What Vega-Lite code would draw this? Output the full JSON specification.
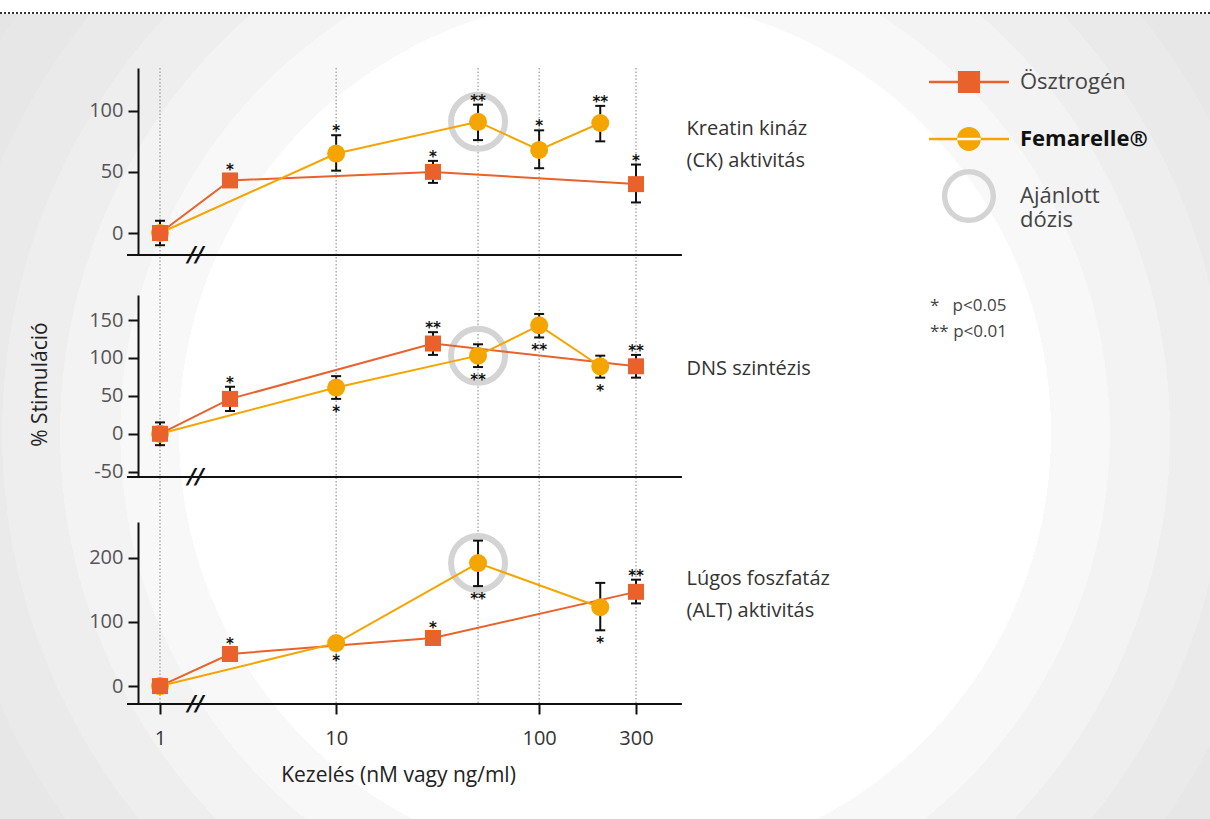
{
  "$schema": "https://vega.github.io/schema/vega-lite/v6.json",
  "width": 1210,
  "height": 805,
  "autosize": {"type": "none"},
  "padding": {"left": 0, "top": 14, "right": 0, "bottom": 0},
  "background": "white",
  "config": {
    "view": {"stroke": "#333", "strokeWidth": 4, "strokeDash": [2, 2]},
    "axis": {"grid": false, "zindex": 1},
    "font": "Open Sans"
  },
  "title": {
    "text": ["*\u00a0\u00a0 p<0.05", "** p<0.01"],
    "anchor": "start", "frame": "group", "orient": "top", "offset": 0,
    "dx": 930, "dy": 327, "font": "Open Sans", "fontSize": 17, "fontWeight": "normal",
    "color": "#444", "lineHeight": 26, "baseline": "top"
  },
  "data": {"values": [
    {"panel":"CK","series":"Ösztrogén","dose":1,"value":0,"lo":-10,"hi":10},
    {"panel":"CK","series":"Ösztrogén","dose":3,"value":43,"sig":"*","pos":"above"},
    {"panel":"CK","series":"Ösztrogén","dose":30,"value":50,"lo":41,"hi":59,"sig":"*","pos":"above"},
    {"panel":"CK","series":"Ösztrogén","dose":300,"value":40,"lo":25,"hi":56,"sig":"*","pos":"above"},
    {"panel":"CK","series":"Femarelle®","dose":1,"value":0},
    {"panel":"CK","series":"Femarelle®","dose":10,"value":65,"lo":51,"hi":80,"sig":"*","pos":"above"},
    {"panel":"CK","series":"Femarelle®","dose":50,"value":91,"lo":76,"hi":105,"sig":"**","pos":"above"},
    {"panel":"CK","series":"Femarelle®","dose":100,"value":68,"lo":53,"hi":84,"sig":"*","pos":"above"},
    {"panel":"CK","series":"Femarelle®","dose":200,"value":90,"lo":75,"hi":104,"sig":"**","pos":"above"},
    {"panel":"DNS","series":"Ösztrogén","dose":1,"value":0,"lo":-15,"hi":15},
    {"panel":"DNS","series":"Ösztrogén","dose":3,"value":46,"lo":30,"hi":62,"sig":"*","pos":"above"},
    {"panel":"DNS","series":"Ösztrogén","dose":30,"value":119,"lo":104,"hi":134,"sig":"**","pos":"above"},
    {"panel":"DNS","series":"Ösztrogén","dose":300,"value":89,"lo":74,"hi":104,"sig":"**","pos":"above"},
    {"panel":"DNS","series":"Femarelle®","dose":1,"value":0},
    {"panel":"DNS","series":"Femarelle®","dose":10,"value":61,"lo":46,"hi":76,"sig":"*","pos":"below"},
    {"panel":"DNS","series":"Femarelle®","dose":50,"value":103,"lo":88,"hi":118,"sig":"**","pos":"below"},
    {"panel":"DNS","series":"Femarelle®","dose":100,"value":143,"lo":127,"hi":158,"sig":"**","pos":"below"},
    {"panel":"DNS","series":"Femarelle®","dose":200,"value":89,"lo":74,"hi":103,"sig":"*","pos":"below"},
    {"panel":"ALT","series":"Ösztrogén","dose":1,"value":0},
    {"panel":"ALT","series":"Ösztrogén","dose":3,"value":50,"sig":"*","pos":"above"},
    {"panel":"ALT","series":"Ösztrogén","dose":30,"value":75,"sig":"*","pos":"above"},
    {"panel":"ALT","series":"Ösztrogén","dose":300,"value":147,"lo":129,"hi":166,"sig":"**","pos":"above"},
    {"panel":"ALT","series":"Femarelle®","dose":1,"value":0},
    {"panel":"ALT","series":"Femarelle®","dose":10,"value":67,"sig":"*","pos":"below"},
    {"panel":"ALT","series":"Femarelle®","dose":50,"value":192,"lo":156,"hi":227,"sig":"**","pos":"below"},
    {"panel":"ALT","series":"Femarelle®","dose":200,"value":123,"lo":87,"hi":161,"sig":"*","pos":"below"}
  ]},
  "resolve": {"scale": {"y": "independent"}, "axis": {"x": "independent"}},
  "layer": [
    {
      "mark": {"type": "point", "filled": true, "opacity": 1},
      "encoding": {
        "color": {"field": "series", "type": "nominal",
          "scale": {"domain": ["Ösztrogén", "Femarelle®", "Ajánlott dózis"], "range": ["#e9612b", "#f5a500", "#d4d4d4"]},
          "legend": {"orient": "none", "legendX": 942, "legendY": 41, "title": null, "padding": 0,
            "symbolSize": 2916, "symbolStrokeWidth": 0, "labelOffset": 24, "rowPadding": 18,
            "labelFont": "Open Sans", "labelFontSize": 22, "labelLimit": 300, "labelBaseline": "middle",
            "labelColor": {"expr": "datum.label == 'Femarelle®' ? '#111' : '#444'"},
            "labelFontWeight": {"expr": "datum.label == 'Femarelle®' ? 'bold' : 'normal'"},
            "labelExpr": "datum.label == 'Ajánlott dózis' ? ['Ajánlott', 'dózis'] : datum.label"}},
        "shape": {"field": "series", "type": "nominal",
          "scale": {"domain": ["Ösztrogén", "Femarelle®", "Ajánlott dózis"], "range": [
            "M-1.48,-0.046H1.48V0.046H-1.48ZM-0.41,-0.41H0.41V0.41H-0.41Z",
            "M-1.48,-0.046H1.48V0.046H-1.48ZM-0.44,0A0.44,0.44,0,1,0,0.44,0A0.44,0.44,0,1,0,-0.44,0Z",
            "M-1,0A1,1,0,1,0,1,0A1,1,0,1,0,-1,0ZM-0.8,0A0.8,0.8,0,1,1,0.8,0A0.8,0.8,0,1,1,-0.8,0Z"]},
          "legend": {"orient": "none", "legendX": 942, "legendY": 41, "title": null, "padding": 0,
            "symbolSize": 2916, "symbolStrokeWidth": 0, "labelOffset": 24, "rowPadding": 18,
            "labelFont": "Open Sans", "labelFontSize": 22, "labelLimit": 300, "labelBaseline": "middle",
            "labelColor": {"expr": "datum.label == 'Femarelle®' ? '#111' : '#444'"},
            "labelFontWeight": {"expr": "datum.label == 'Femarelle®' ? 'bold' : 'normal'"},
            "labelExpr": "datum.label == 'Ajánlott dózis' ? ['Ajánlott', 'dózis'] : datum.label"}}
      }
    },
    {
      "data": {"values": [{}]},
      "mark": {"type": "rect", "fill": {"gradient": "radial", "x1": 0.5083, "y1": 0.5136, "r1": 0, "x2": 0.5083, "y2": 0.5136, "r2": 0.6223,
        "stops": [
          {"offset": 0, "color": "#ffffff"}, {"offset": 0.579, "color": "#ffffff"},
          {"offset": 0.579, "color": "#f8f8f8"}, {"offset": 0.657, "color": "#f8f8f8"},
          {"offset": 0.657, "color": "#f3f3f3"}, {"offset": 0.737, "color": "#f3f3f3"},
          {"offset": 0.737, "color": "#eeeeee"}, {"offset": 0.814, "color": "#eeeeee"},
          {"offset": 0.814, "color": "#eaeaea"}, {"offset": 0.892, "color": "#eaeaea"},
          {"offset": 0.892, "color": "#e7e7e7"}, {"offset": 0.969, "color": "#e7e7e7"},
          {"offset": 0.969, "color": "#e5e5e5"}, {"offset": 1, "color": "#e5e5e5"}
        ]}},
      "encoding": {}
    },
    {
      "data": {"values": [{"dose": 1}, {"dose": 10}, {"dose": 50}, {"dose": 100}, {"dose": 300}]},
      "mark": {"type": "rule", "color": "#999", "strokeWidth": 1.2, "strokeDash": [1.5, 2]},
      "encoding": {
        "x": {"field": "dose", "type": "quantitative", "scale": {"type": "log", "domain": [1, 3, 300], "range": [160, 230, 636], "nice": false},
          "axis": {"orient": "bottom", "offset": -115, "values": [1, 10, 100, 300], "domain": false, "ticks": true, "labels": true, "zindex": 1,
            "tickSize": 10, "tickWidth": 2, "tickColor": "#111", "grid": false,
            "labelExpr": "datum.value == 1 ? '1' : datum.value == 10 ? '10' : datum.value == 100 ? '100' : '300'",
            "labelFont": "Open Sans", "labelFontSize": 20, "labelColor": "#333", "labelPadding": 14, "labelOverlap": false, "labelFlush": false,
            "title": "Kezelés (nM vagy ng/ml)", "titleFont": "Open Sans", "titleFontSize": 21, "titleFontWeight": "normal", "titleColor": "#222", "titlePadding": 16}},
        "y": {"datum": 1, "type": "quantitative", "scale": {"domain": [0, 1], "range": [690, 54], "nice": false, "zero": false}, "axis": null},
        "y2": {"datum": 0}
      }
    },
    {
      "resolve": {"axis": {"y": "independent"}},
      "layer": [
        {"data": {"values": [{}]}, "mark": {"type": "rule", "color": "#111", "strokeWidth": 2},
          "encoding": {
            "x": {"datum": 0.596, "type": "quantitative", "scale": {"type": "log", "domain": [1, 3, 300], "range": [160, 230, 636], "nice": false}, "axis": null},
            "x2": {"datum": 505},
            "y": {"datum": -18, "type": "quantitative", "scale": {"domain": [-18, 135], "range": [241, 54], "nice": false, "zero": false}, "axis": null}}},
        {"data": {"values": [{}]}, "mark": {"type": "text", "text": "//", "font": "DejaVu Sans", "fontSize": 22, "fontStyle": "italic", "fontWeight": "bold", "color": "#111", "baseline": "middle", "align": "center"},
          "encoding": {
            "x": {"datum": 1.75, "type": "quantitative", "scale": {"type": "log", "domain": [1, 3, 300], "range": [160, 230, 636], "nice": false}, "axis": null},
            "y": {"datum": -18, "type": "quantitative", "scale": {"domain": [-18, 135], "range": [241, 54], "nice": false, "zero": false}, "axis": null}}},
        {"transform": [{"filter": "datum.panel == 'CK' && datum.series == 'Femarelle®' && datum.dose == 50"}],
          "mark": {"type": "point", "shape": "circle", "filled": false, "stroke": "#d4d4d4", "strokeWidth": 6, "size": 2916, "opacity": 1},
          "encoding": {
            "x": {"field": "dose", "type": "quantitative", "scale": {"type": "log", "domain": [1, 3, 300], "range": [160, 230, 636], "nice": false}, "axis": null},
            "y": {"field": "value", "type": "quantitative", "scale": {"domain": [-18, 135], "range": [241, 54], "nice": false, "zero": false}, "axis": null}}},
        {"transform": [{"filter": "datum.panel == 'CK' && datum.series == 'Ösztrogén'"}],
          "mark": {"type": "line", "color": "#e9612b", "strokeWidth": 2},
          "encoding": {
            "x": {"field": "dose", "type": "quantitative", "scale": {"type": "log", "domain": [1, 3, 300], "range": [160, 230, 636], "nice": false}, "axis": null},
            "y": {"field": "value", "type": "quantitative", "scale": {"domain": [-18, 135], "range": [241, 54], "nice": false, "zero": false}, "axis": null}}},
        {"transform": [{"filter": "datum.panel == 'CK' && datum.series == 'Femarelle®'"}],
          "mark": {"type": "line", "color": "#f5a500", "strokeWidth": 2},
          "encoding": {
            "x": {"field": "dose", "type": "quantitative", "scale": {"type": "log", "domain": [1, 3, 300], "range": [160, 230, 636], "nice": false}, "axis": null},
            "y": {"field": "value", "type": "quantitative", "scale": {"domain": [-18, 135], "range": [241, 54], "nice": false, "zero": false},
              "axis": {"orient": "right", "offset": -524, "domain": false, "ticks": false, "labels": false, "grid": false, "zindex": 1,
                "title": ["Kreatin kináz", "(CK) aktivitás"], "titleAngle": 0, "titleAlign": "left", "titleBaseline": "middle",
                "titleX": 0, "titleY": 114, "titleFont": "Open Sans", "titleFontSize": 20, "titleFontWeight": "normal", "titleColor": "#333", "titleLineHeight": 32}}}},
        {"transform": [{"filter": "datum.panel == 'CK' && isValid(datum.lo)"}],
          "mark": {"type": "rule", "color": "#111", "strokeWidth": 2},
          "encoding": {
            "x": {"field": "dose", "type": "quantitative", "scale": {"type": "log", "domain": [1, 3, 300], "range": [160, 230, 636], "nice": false}, "axis": null},
            "y": {"field": "lo", "type": "quantitative", "scale": {"domain": [-18, 135], "range": [241, 54], "nice": false, "zero": false}, "axis": null},
            "y2": {"field": "hi"}}},
        {"transform": [{"filter": "datum.panel == 'CK' && isValid(datum.lo)"}],
          "mark": {"type": "tick", "orient": "horizontal", "size": 10, "thickness": 2, "color": "#111", "opacity": 1},
          "encoding": {
            "x": {"field": "dose", "type": "quantitative", "scale": {"type": "log", "domain": [1, 3, 300], "range": [160, 230, 636], "nice": false}, "axis": null},
            "y": {"field": "hi", "type": "quantitative", "scale": {"domain": [-18, 135], "range": [241, 54], "nice": false, "zero": false}, "axis": null}}},
        {"transform": [{"filter": "datum.panel == 'CK' && isValid(datum.lo)"}],
          "mark": {"type": "tick", "orient": "horizontal", "size": 10, "thickness": 2, "color": "#111", "opacity": 1},
          "encoding": {
            "x": {"field": "dose", "type": "quantitative", "scale": {"type": "log", "domain": [1, 3, 300], "range": [160, 230, 636], "nice": false}, "axis": null},
            "y": {"field": "lo", "type": "quantitative", "scale": {"domain": [-18, 135], "range": [241, 54], "nice": false, "zero": false}, "axis": null}}},
        {"transform": [{"filter": "datum.panel == 'CK' && datum.series == 'Femarelle®'"}],
          "mark": {"type": "point", "shape": "circle", "filled": true, "color": "#f5a500", "size": 324, "opacity": 1},
          "encoding": {
            "x": {"field": "dose", "type": "quantitative", "scale": {"type": "log", "domain": [1, 3, 300], "range": [160, 230, 636], "nice": false}, "axis": null},
            "y": {"field": "value", "type": "quantitative", "scale": {"domain": [-18, 135], "range": [241, 54], "nice": false, "zero": false}, "axis": null}}},
        {"transform": [{"filter": "datum.panel == 'CK' && datum.series == 'Ösztrogén'"}],
          "mark": {"type": "point", "shape": "square", "filled": true, "color": "#e9612b", "size": 256, "opacity": 1},
          "encoding": {
            "x": {"field": "dose", "type": "quantitative", "scale": {"type": "log", "domain": [1, 3, 300], "range": [160, 230, 636], "nice": false}, "axis": null},
            "y": {"field": "value", "type": "quantitative", "scale": {"domain": [-18, 135], "range": [241, 54], "nice": false, "zero": false},
              "axis": {"orient": "left", "offset": -138, "values": [0, 50, 100], "title": null, "grid": false, "zindex": 1,
                "domainColor": "#111", "domainWidth": 2, "tickColor": "#111", "tickWidth": 2, "tickSize": 10,
                "labelFont": "Open Sans", "labelFontSize": 20, "labelColor": "#555", "labelPadding": 5, "labelOverlap": false, "labelFlush": false}}}},
        {"transform": [{"filter": "datum.panel == 'CK' && datum.pos == 'above' && isValid(datum.hi)"}],
          "mark": {"type": "text", "font": "DejaVu Sans", "fontWeight": "bold", "fontSize": 15, "color": "#111", "baseline": "alphabetic", "dy": 1},
          "encoding": {
            "x": {"field": "dose", "type": "quantitative", "scale": {"type": "log", "domain": [1, 3, 300], "range": [160, 230, 636], "nice": false}, "axis": null},
            "y": {"field": "hi", "type": "quantitative", "scale": {"domain": [-18, 135], "range": [241, 54], "nice": false, "zero": false}, "axis": null},
            "text": {"field": "sig"}}},
        {"transform": [{"filter": "datum.panel == 'CK' && datum.pos == 'above' && !isValid(datum.hi)"}],
          "mark": {"type": "text", "font": "DejaVu Sans", "fontWeight": "bold", "fontSize": 15, "color": "#111", "baseline": "alphabetic", "dy": -5},
          "encoding": {
            "x": {"field": "dose", "type": "quantitative", "scale": {"type": "log", "domain": [1, 3, 300], "range": [160, 230, 636], "nice": false}, "axis": null},
            "y": {"field": "value", "type": "quantitative", "scale": {"domain": [-18, 135], "range": [241, 54], "nice": false, "zero": false}, "axis": null},
            "text": {"field": "sig"}}}
      ]
    },
    {
      "resolve": {"axis": {"y": "independent"}},
      "layer": [
        {"data": {"values": [{}]}, "mark": {"type": "rule", "color": "#111", "strokeWidth": 2},
          "encoding": {
            "x": {"datum": 0.596, "type": "quantitative", "scale": {"type": "log", "domain": [1, 3, 300], "range": [160, 230, 636], "nice": false}, "axis": null},
            "x2": {"datum": 505},
            "y": {"datum": -57, "type": "quantitative", "scale": {"domain": [-57, 183], "range": [463, 281], "nice": false, "zero": false}, "axis": null}}},
        {"data": {"values": [{}]}, "mark": {"type": "text", "text": "//", "font": "DejaVu Sans", "fontSize": 22, "fontStyle": "italic", "fontWeight": "bold", "color": "#111", "baseline": "middle", "align": "center"},
          "encoding": {
            "x": {"datum": 1.75, "type": "quantitative", "scale": {"type": "log", "domain": [1, 3, 300], "range": [160, 230, 636], "nice": false}, "axis": null},
            "y": {"datum": -57, "type": "quantitative", "scale": {"domain": [-57, 183], "range": [463, 281], "nice": false, "zero": false}, "axis": null}}},
        {"transform": [{"filter": "datum.panel == 'DNS' && datum.series == 'Femarelle®' && datum.dose == 50"}],
          "mark": {"type": "point", "shape": "circle", "filled": false, "stroke": "#d4d4d4", "strokeWidth": 6, "size": 2916, "opacity": 1},
          "encoding": {
            "x": {"field": "dose", "type": "quantitative", "scale": {"type": "log", "domain": [1, 3, 300], "range": [160, 230, 636], "nice": false}, "axis": null},
            "y": {"field": "value", "type": "quantitative", "scale": {"domain": [-57, 183], "range": [463, 281], "nice": false, "zero": false}, "axis": null}}},
        {"transform": [{"filter": "datum.panel == 'DNS' && datum.series == 'Ösztrogén'"}],
          "mark": {"type": "line", "color": "#e9612b", "strokeWidth": 2},
          "encoding": {
            "x": {"field": "dose", "type": "quantitative", "scale": {"type": "log", "domain": [1, 3, 300], "range": [160, 230, 636], "nice": false}, "axis": null},
            "y": {"field": "value", "type": "quantitative", "scale": {"domain": [-57, 183], "range": [463, 281], "nice": false, "zero": false}, "axis": null}}},
        {"transform": [{"filter": "datum.panel == 'DNS' && datum.series == 'Femarelle®'"}],
          "mark": {"type": "line", "color": "#f5a500", "strokeWidth": 2},
          "encoding": {
            "x": {"field": "dose", "type": "quantitative", "scale": {"type": "log", "domain": [1, 3, 300], "range": [160, 230, 636], "nice": false}, "axis": null},
            "y": {"field": "value", "type": "quantitative", "scale": {"domain": [-57, 183], "range": [463, 281], "nice": false, "zero": false},
              "axis": {"orient": "right", "offset": -524, "domain": false, "ticks": false, "labels": false, "grid": false, "zindex": 1,
                "title": "DNS szintézis", "titleAngle": 0, "titleAlign": "left", "titleBaseline": "middle",
                "titleX": 0, "titleY": 354, "titleFont": "Open Sans", "titleFontSize": 20, "titleFontWeight": "normal", "titleColor": "#333"}}}},
        {"transform": [{"filter": "datum.panel == 'DNS' && isValid(datum.lo)"}],
          "mark": {"type": "rule", "color": "#111", "strokeWidth": 2},
          "encoding": {
            "x": {"field": "dose", "type": "quantitative", "scale": {"type": "log", "domain": [1, 3, 300], "range": [160, 230, 636], "nice": false}, "axis": null},
            "y": {"field": "lo", "type": "quantitative", "scale": {"domain": [-57, 183], "range": [463, 281], "nice": false, "zero": false}, "axis": null},
            "y2": {"field": "hi"}}},
        {"transform": [{"filter": "datum.panel == 'DNS' && isValid(datum.lo)"}],
          "mark": {"type": "tick", "orient": "horizontal", "size": 10, "thickness": 2, "color": "#111", "opacity": 1},
          "encoding": {
            "x": {"field": "dose", "type": "quantitative", "scale": {"type": "log", "domain": [1, 3, 300], "range": [160, 230, 636], "nice": false}, "axis": null},
            "y": {"field": "hi", "type": "quantitative", "scale": {"domain": [-57, 183], "range": [463, 281], "nice": false, "zero": false}, "axis": null}}},
        {"transform": [{"filter": "datum.panel == 'DNS' && isValid(datum.lo)"}],
          "mark": {"type": "tick", "orient": "horizontal", "size": 10, "thickness": 2, "color": "#111", "opacity": 1},
          "encoding": {
            "x": {"field": "dose", "type": "quantitative", "scale": {"type": "log", "domain": [1, 3, 300], "range": [160, 230, 636], "nice": false}, "axis": null},
            "y": {"field": "lo", "type": "quantitative", "scale": {"domain": [-57, 183], "range": [463, 281], "nice": false, "zero": false}, "axis": null}}},
        {"transform": [{"filter": "datum.panel == 'DNS' && datum.series == 'Femarelle®'"}],
          "mark": {"type": "point", "shape": "circle", "filled": true, "color": "#f5a500", "size": 324, "opacity": 1},
          "encoding": {
            "x": {"field": "dose", "type": "quantitative", "scale": {"type": "log", "domain": [1, 3, 300], "range": [160, 230, 636], "nice": false}, "axis": null},
            "y": {"field": "value", "type": "quantitative", "scale": {"domain": [-57, 183], "range": [463, 281], "nice": false, "zero": false}, "axis": null}}},
        {"transform": [{"filter": "datum.panel == 'DNS' && datum.series == 'Ösztrogén'"}],
          "mark": {"type": "point", "shape": "square", "filled": true, "color": "#e9612b", "size": 256, "opacity": 1},
          "encoding": {
            "x": {"field": "dose", "type": "quantitative", "scale": {"type": "log", "domain": [1, 3, 300], "range": [160, 230, 636], "nice": false}, "axis": null},
            "y": {"field": "value", "type": "quantitative", "scale": {"domain": [-57, 183], "range": [463, 281], "nice": false, "zero": false},
              "axis": {"orient": "left", "offset": -138, "values": [-50, 0, 50, 100, 150], "grid": false, "zindex": 1,
                "labelExpr": "datum.value < 0 ? '-' + abs(datum.value) : datum.label",
                "domainColor": "#111", "domainWidth": 2, "tickColor": "#111", "tickWidth": 2, "tickSize": 10,
                "labelFont": "Open Sans", "labelFontSize": 20, "labelColor": "#555", "labelPadding": 5, "labelOverlap": false, "labelFlush": false,
                "title": "% Stimuláció", "titleX": -98, "titleY": 370, "titleAngle": -90, "titleAlign": "center", "titleBaseline": "middle",
                "titleFont": "Open Sans", "titleFontSize": 21, "titleFontWeight": "normal", "titleColor": "#222"}}}},
        {"transform": [{"filter": "datum.panel == 'DNS' && datum.pos == 'above' && isValid(datum.hi)"}],
          "mark": {"type": "text", "font": "DejaVu Sans", "fontWeight": "bold", "fontSize": 15, "color": "#111", "baseline": "alphabetic", "dy": 1},
          "encoding": {
            "x": {"field": "dose", "type": "quantitative", "scale": {"type": "log", "domain": [1, 3, 300], "range": [160, 230, 636], "nice": false}, "axis": null},
            "y": {"field": "hi", "type": "quantitative", "scale": {"domain": [-57, 183], "range": [463, 281], "nice": false, "zero": false}, "axis": null},
            "text": {"field": "sig"}}},
        {"transform": [{"filter": "datum.panel == 'DNS' && datum.pos == 'below' && isValid(datum.lo)"}],
          "mark": {"type": "text", "font": "DejaVu Sans", "fontWeight": "bold", "fontSize": 15, "color": "#111", "baseline": "alphabetic", "dy": 18},
          "encoding": {
            "x": {"field": "dose", "type": "quantitative", "scale": {"type": "log", "domain": [1, 3, 300], "range": [160, 230, 636], "nice": false}, "axis": null},
            "y": {"field": "lo", "type": "quantitative", "scale": {"domain": [-57, 183], "range": [463, 281], "nice": false, "zero": false}, "axis": null},
            "text": {"field": "sig"}}}
      ]
    },
    {
      "resolve": {"axis": {"y": "independent"}},
      "layer": [
        {"data": {"values": [{}]}, "mark": {"type": "rule", "color": "#111", "strokeWidth": 2},
          "encoding": {
            "x": {"datum": 0.596, "type": "quantitative", "scale": {"type": "log", "domain": [1, 3, 300], "range": [160, 230, 636], "nice": false}, "axis": null},
            "x2": {"datum": 505},
            "y": {"datum": -28, "type": "quantitative", "scale": {"domain": [-28, 256], "range": [690, 508], "nice": false, "zero": false}, "axis": null}}},
        {"data": {"values": [{}]}, "mark": {"type": "text", "text": "//", "font": "DejaVu Sans", "fontSize": 22, "fontStyle": "italic", "fontWeight": "bold", "color": "#111", "baseline": "middle", "align": "center"},
          "encoding": {
            "x": {"datum": 1.75, "type": "quantitative", "scale": {"type": "log", "domain": [1, 3, 300], "range": [160, 230, 636], "nice": false}, "axis": null},
            "y": {"datum": -28, "type": "quantitative", "scale": {"domain": [-28, 256], "range": [690, 508], "nice": false, "zero": false}, "axis": null}}},
        {"transform": [{"filter": "datum.panel == 'ALT' && datum.series == 'Femarelle®' && datum.dose == 50"}],
          "mark": {"type": "point", "shape": "circle", "filled": false, "stroke": "#d4d4d4", "strokeWidth": 6, "size": 2916, "opacity": 1},
          "encoding": {
            "x": {"field": "dose", "type": "quantitative", "scale": {"type": "log", "domain": [1, 3, 300], "range": [160, 230, 636], "nice": false}, "axis": null},
            "y": {"field": "value", "type": "quantitative", "scale": {"domain": [-28, 256], "range": [690, 508], "nice": false, "zero": false}, "axis": null}}},
        {"transform": [{"filter": "datum.panel == 'ALT' && datum.series == 'Ösztrogén'"}],
          "mark": {"type": "line", "color": "#e9612b", "strokeWidth": 2},
          "encoding": {
            "x": {"field": "dose", "type": "quantitative", "scale": {"type": "log", "domain": [1, 3, 300], "range": [160, 230, 636], "nice": false}, "axis": null},
            "y": {"field": "value", "type": "quantitative", "scale": {"domain": [-28, 256], "range": [690, 508], "nice": false, "zero": false}, "axis": null}}},
        {"transform": [{"filter": "datum.panel == 'ALT' && datum.series == 'Femarelle®'"}],
          "mark": {"type": "line", "color": "#f5a500", "strokeWidth": 2},
          "encoding": {
            "x": {"field": "dose", "type": "quantitative", "scale": {"type": "log", "domain": [1, 3, 300], "range": [160, 230, 636], "nice": false}, "axis": null},
            "y": {"field": "value", "type": "quantitative", "scale": {"domain": [-28, 256], "range": [690, 508], "nice": false, "zero": false},
              "axis": {"orient": "right", "offset": -524, "domain": false, "ticks": false, "labels": false, "grid": false, "zindex": 1,
                "title": ["Lúgos foszfatáz", "(ALT) aktivitás"], "titleAngle": 0, "titleAlign": "left", "titleBaseline": "middle",
                "titleX": 0, "titleY": 564, "titleFont": "Open Sans", "titleFontSize": 20, "titleFontWeight": "normal", "titleColor": "#333", "titleLineHeight": 32}}}},
        {"transform": [{"filter": "datum.panel == 'ALT' && isValid(datum.lo)"}],
          "mark": {"type": "rule", "color": "#111", "strokeWidth": 2},
          "encoding": {
            "x": {"field": "dose", "type": "quantitative", "scale": {"type": "log", "domain": [1, 3, 300], "range": [160, 230, 636], "nice": false}, "axis": null},
            "y": {"field": "lo", "type": "quantitative", "scale": {"domain": [-28, 256], "range": [690, 508], "nice": false, "zero": false}, "axis": null},
            "y2": {"field": "hi"}}},
        {"transform": [{"filter": "datum.panel == 'ALT' && isValid(datum.lo)"}],
          "mark": {"type": "tick", "orient": "horizontal", "size": 10, "thickness": 2, "color": "#111", "opacity": 1},
          "encoding": {
            "x": {"field": "dose", "type": "quantitative", "scale": {"type": "log", "domain": [1, 3, 300], "range": [160, 230, 636], "nice": false}, "axis": null},
            "y": {"field": "hi", "type": "quantitative", "scale": {"domain": [-28, 256], "range": [690, 508], "nice": false, "zero": false}, "axis": null}}},
        {"transform": [{"filter": "datum.panel == 'ALT' && isValid(datum.lo)"}],
          "mark": {"type": "tick", "orient": "horizontal", "size": 10, "thickness": 2, "color": "#111", "opacity": 1},
          "encoding": {
            "x": {"field": "dose", "type": "quantitative", "scale": {"type": "log", "domain": [1, 3, 300], "range": [160, 230, 636], "nice": false}, "axis": null},
            "y": {"field": "lo", "type": "quantitative", "scale": {"domain": [-28, 256], "range": [690, 508], "nice": false, "zero": false}, "axis": null}}},
        {"transform": [{"filter": "datum.panel == 'ALT' && datum.series == 'Femarelle®'"}],
          "mark": {"type": "point", "shape": "circle", "filled": true, "color": "#f5a500", "size": 324, "opacity": 1},
          "encoding": {
            "x": {"field": "dose", "type": "quantitative", "scale": {"type": "log", "domain": [1, 3, 300], "range": [160, 230, 636], "nice": false}, "axis": null},
            "y": {"field": "value", "type": "quantitative", "scale": {"domain": [-28, 256], "range": [690, 508], "nice": false, "zero": false}, "axis": null}}},
        {"transform": [{"filter": "datum.panel == 'ALT' && datum.series == 'Ösztrogén'"}],
          "mark": {"type": "point", "shape": "square", "filled": true, "color": "#e9612b", "size": 256, "opacity": 1},
          "encoding": {
            "x": {"field": "dose", "type": "quantitative", "scale": {"type": "log", "domain": [1, 3, 300], "range": [160, 230, 636], "nice": false}, "axis": null},
            "y": {"field": "value", "type": "quantitative", "scale": {"domain": [-28, 256], "range": [690, 508], "nice": false, "zero": false},
              "axis": {"orient": "left", "offset": -138, "values": [0, 100, 200], "title": null, "grid": false, "zindex": 1,
                "domainColor": "#111", "domainWidth": 2, "tickColor": "#111", "tickWidth": 2, "tickSize": 10,
                "labelFont": "Open Sans", "labelFontSize": 20, "labelColor": "#555", "labelPadding": 5, "labelOverlap": false, "labelFlush": false}}}},
        {"transform": [{"filter": "datum.panel == 'ALT' && datum.pos == 'above' && isValid(datum.hi)"}],
          "mark": {"type": "text", "font": "DejaVu Sans", "fontWeight": "bold", "fontSize": 15, "color": "#111", "baseline": "alphabetic", "dy": 1},
          "encoding": {
            "x": {"field": "dose", "type": "quantitative", "scale": {"type": "log", "domain": [1, 3, 300], "range": [160, 230, 636], "nice": false}, "axis": null},
            "y": {"field": "hi", "type": "quantitative", "scale": {"domain": [-28, 256], "range": [690, 508], "nice": false, "zero": false}, "axis": null},
            "text": {"field": "sig"}}},
        {"transform": [{"filter": "datum.panel == 'ALT' && datum.pos == 'below' && isValid(datum.lo)"}],
          "mark": {"type": "text", "font": "DejaVu Sans", "fontWeight": "bold", "fontSize": 15, "color": "#111", "baseline": "alphabetic", "dy": 18},
          "encoding": {
            "x": {"field": "dose", "type": "quantitative", "scale": {"type": "log", "domain": [1, 3, 300], "range": [160, 230, 636], "nice": false}, "axis": null},
            "y": {"field": "lo", "type": "quantitative", "scale": {"domain": [-28, 256], "range": [690, 508], "nice": false, "zero": false}, "axis": null},
            "text": {"field": "sig"}}},
        {"transform": [{"filter": "datum.panel == 'ALT' && datum.pos == 'above' && !isValid(datum.hi)"}],
          "mark": {"type": "text", "font": "DejaVu Sans", "fontWeight": "bold", "fontSize": 15, "color": "#111", "baseline": "alphabetic", "dy": -5},
          "encoding": {
            "x": {"field": "dose", "type": "quantitative", "scale": {"type": "log", "domain": [1, 3, 300], "range": [160, 230, 636], "nice": false}, "axis": null},
            "y": {"field": "value", "type": "quantitative", "scale": {"domain": [-28, 256], "range": [690, 508], "nice": false, "zero": false}, "axis": null},
            "text": {"field": "sig"}}},
        {"transform": [{"filter": "datum.panel == 'ALT' && datum.pos == 'below' && !isValid(datum.lo)"}],
          "mark": {"type": "text", "font": "DejaVu Sans", "fontWeight": "bold", "fontSize": 15, "color": "#111", "baseline": "alphabetic", "dy": 23},
          "encoding": {
            "x": {"field": "dose", "type": "quantitative", "scale": {"type": "log", "domain": [1, 3, 300], "range": [160, 230, 636], "nice": false}, "axis": null},
            "y": {"field": "value", "type": "quantitative", "scale": {"domain": [-28, 256], "range": [690, 508], "nice": false, "zero": false}, "axis": null},
            "text": {"field": "sig"}}}
      ]
    }
  ]
}
